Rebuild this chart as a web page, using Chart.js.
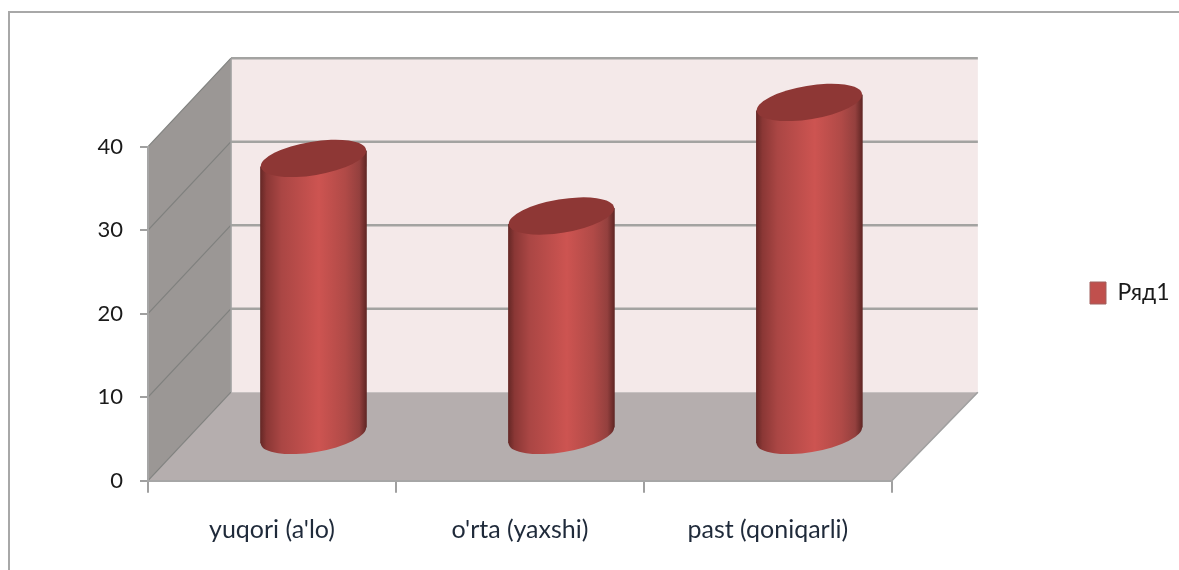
<!DOCTYPE html>
<html>
<head>
<meta charset="utf-8">
<script src="https://cdn.jsdelivr.net/npm/chart.js@4"></script>
<style>
  html, body { margin: 0; padding: 0; background: #fff; overflow: hidden; }
  #wrap { position: relative; width: 1179px; height: 570px; }
  #frame { position: absolute; left: 8px; top: 11px; right: 0; bottom: 0; border-top: 2px solid #a8a8a8; border-left: 2px solid #a8a8a8; }
  canvas { position: absolute; left: 0; top: 0; filter: blur(0.4px); }
</style>
</head>
<body>
<div id="wrap">
  <div id="frame"></div>
  <canvas id="chart" width="1179" height="570"></canvas>
</div>
<script>
var categories = ["yuqori (a'lo)", "o'rta (yaxshi)", "past (qoniqarli)"];
var seriesName = 'Ряд1';
var seriesValues = [33.3, 26.4, 40];
var yTickValues = [0, 10, 20, 30, 40];

var fontName = 'Lato, sans-serif';
var depthX = 83;
var depthY = 88.5;

// box walls, they hang off the real scales
var wallsPlugin = {
    id: 'walls',
    beforeDraw: function (chart) {
        var ctx = chart.ctx;
        var xs = chart.scales.x;
        var ys = chart.scales.y;
        var left = xs.left, right = xs.right;
        var y0 = ys.getPixelForValue(0);
        var yTop = ys.getPixelForValue(yTickValues[yTickValues.length - 1]);

        ctx.save();
        // back wall
        ctx.fillStyle = '#f4e9e9';
        ctx.fillRect(left + depthX, yTop - depthY, right - left + 3, y0 - yTop);
        // side wall
        ctx.fillStyle = '#9b9795';
        ctx.beginPath();
        ctx.moveTo(left, y0);
        ctx.lineTo(left, yTop);
        ctx.lineTo(left + depthX, yTop - depthY);
        ctx.lineTo(left + depthX, y0 - depthY);
        ctx.closePath();
        ctx.fill();
        // floor
        ctx.fillStyle = '#b5aeae';
        ctx.beginPath();
        ctx.moveTo(left, y0);
        ctx.lineTo(left + depthX, y0 - depthY);
        ctx.lineTo(right + depthX + 3, y0 - depthY);
        ctx.lineTo(right, y0);
        ctx.closePath();
        ctx.fill();

        // grid lines
        yTickValues.forEach(function (v) {
            var py = ys.getPixelForValue(v);
            ctx.strokeStyle = '#7f807e';
            ctx.lineWidth = 1.2;
            ctx.beginPath();
            ctx.moveTo(left, py);
            ctx.lineTo(left + depthX, py - depthY);
            ctx.stroke();
            if (v > 0) {
                ctx.strokeStyle = '#a3a3a1';
                ctx.lineWidth = 2.4;
                ctx.beginPath();
                ctx.moveTo(left + depthX, py - depthY);
                ctx.lineTo(right + depthX + 3, py - depthY);
                ctx.stroke();
            }
        });
        // outline on the floor edges
        ctx.strokeStyle = '#a0a0a0';
        ctx.lineWidth = 1.6;
        ctx.beginPath();
        ctx.moveTo(right, y0);
        ctx.lineTo(right + depthX + 3, y0 - depthY);
        ctx.moveTo(left + depthX, y0 - depthY);
        ctx.lineTo(left + depthX, yTop - depthY);
        ctx.stroke();
        ctx.restore();
    },
    // bars are drawn as cylinders below
    beforeDatasetDraw: function () {
        return false;
    },
    afterDatasetsDraw: function (chart) {
        var ctx = chart.ctx;
        chart.getDatasetMeta(0).data.forEach(function (bar) {
            var cx = bar.x + depthX / 2;
            var top = bar.y - depthY / 2;
            var bottom = bar.base - depthY / 2;
            var w = bar.width;
            var tilt = w * 0.075;
            var l = cx - w / 2, r = cx + w / 2;
            var g = ctx.createLinearGradient(l, 0, r, 0);
            g.addColorStop(0, '#642725');
            g.addColorStop(0.06, '#8a3735');
            g.addColorStop(0.2, '#aa4644');
            g.addColorStop(0.55, '#cd5451');
            g.addColorStop(0.8, '#b04a47');
            g.addColorStop(0.93, '#94403e');
            g.addColorStop(1, '#5e2523');

            ctx.save();
            ctx.fillStyle = g;
            ctx.beginPath();
            ctx.moveTo(l, top + tilt);
            ctx.lineTo(l, bottom + tilt);
            ctx.lineTo(r, bottom - tilt);
            ctx.lineTo(r, top - tilt);
            ctx.closePath();
            ctx.fill();
            ctx.beginPath();
            ctx.ellipse(cx, bottom, w * 0.5, w * 0.157, -0.164, 0, Math.PI * 2);
            ctx.fill();
            ctx.fillStyle = '#8e3735';
            ctx.beginPath();
            ctx.ellipse(cx, top, w * 0.5, w * 0.157, -0.164, 0, Math.PI * 2);
            ctx.fill();
            ctx.restore();
        });
    },
    // legend sits a bit above the middle of the plot
    afterLayout: function (chart) {
        var lg = chart.legend;
        var h = lg.bottom - lg.top;
        var w = lg.right - lg.left;
        lg.top = 293 - h / 2;
        lg.bottom = lg.top + h;
        lg.left = 1080;
        lg.right = lg.left + w;
    }
};

new Chart(document.getElementById('chart').getContext('2d'), {
    type: 'bar',
    data: {
        labels: categories,
        datasets: [{
            label: seriesName,
            data: seriesValues,
            backgroundColor: '#c0504d',
            borderColor: '#a0605e',
            borderWidth: 1
        }]
    },
    plugins: [wallsPlugin],
    options: {
        responsive: false,
        animation: false,
        devicePixelRatio: 1,
        barPercentage: 0.43,
        categoryPercentage: 1,
        layout: { padding: { top: 146.7, right: 187.6, left: 0, bottom: 0 } },
        plugins: {
            tooltip: { enabled: false },
            legend: {
                position: 'right',
                labels: {
                    boxWidth: 16,
                    boxHeight: 22,
                    padding: 10,
                    color: '#1a1a1a',
                    font: { family: fontName, size: 23 }
                }
            }
        },
        scales: {
            x: {
                afterFit: function (s) { s.height = 89.3; },
                border: { color: '#a6a6a6', width: 2 },
                grid: { drawOnChartArea: false, color: '#a0a0a0', lineWidth: 2, tickLength: 12 },
                ticks: {
                    autoSkip: false,
                    maxRotation: 0,
                    padding: 22,
                    color: '#1f2a3a',
                    font: { family: fontName, size: 25 }
                }
            },
            y: {
                min: 0,
                max: 40,
                afterFit: function (s) { s.width = 148; },
                afterBuildTicks: function (s) {
                    s.ticks = yTickValues.map(function (v) { return { value: v }; });
                },
                border: { color: '#a6a6a6', width: 2 },
                grid: { drawOnChartArea: false, color: '#a0a0a0', lineWidth: 2, tickLength: 8 },
                ticks: {
                    padding: 17,
                    color: '#1a1a1a',
                    font: { family: fontName, size: 22 }
                }
            }
        }
    }
});
</script>
</body>
</html>
